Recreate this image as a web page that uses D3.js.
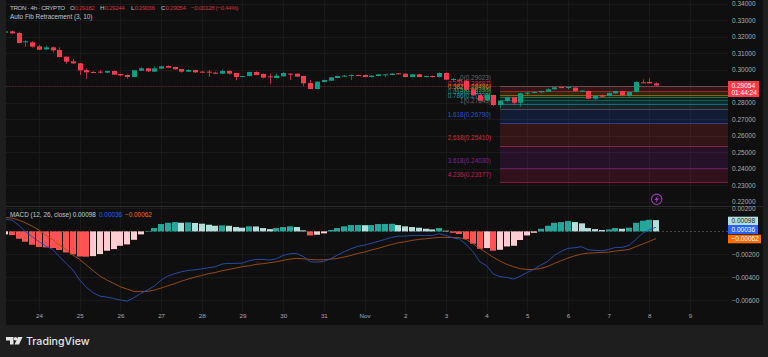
<!DOCTYPE html>
<html>
<head>
<meta charset="utf-8">
<script src="https://cdn.jsdelivr.net/npm/d3@7"></script>
<style>
  html, body { margin: 0; padding: 0; background: #1e1e1e; overflow: hidden; }
  text { font-family: "Liberation Sans", sans-serif; }
</style>
</head>
<body>
<div id="chart"></div>
<script>
// 4h candles, first bar is Oct 23 04:00
const opens = [.32256,.32337,.32236,.31691,.31671,.31428,.31246,.31368,.31206,.30802,.30519,.30398,.29994,.29873,.29893,.29832,.29933,.29752,.29691,.29570,.29954,.30095,.29893,.30075,.30236,.30176,.30055,.29893,.29994,.29893,.29893,.29832,.29772,.29933,.29812,.29570,.29630,.29873,.29752,.29610,.29509,.29610,.29772,.29772,.29630,.29206,.28842,.29267,.29348,.29509,.29590,.29671,.29691,.29691,.29570,.29630,.29691,.29691,.29792,.29772,.29570,.29731,.29590,.29630,.29570,.29812,.29428,.29408,.29348,.28822,.28459,.28136,.28479,.27873,.28115,.28338,.28014,.28560,.28600,.28641,.28681,.28822,.28964,.28903,.28923,.28701,.28721,.28257,.28459,.28418,.28580,.28721,.28439,.28661,.29247,.29267,.29182];
const highs = [.32357,.32378,.32317,.31812,.31731,.31509,.31469,.31408,.31368,.30802,.30681,.30418,.30095,.29933,.29994,.29954,.29954,.29772,.29711,.29994,.30176,.30115,.30216,.30256,.30277,.30196,.30055,.30055,.30014,.29933,.29994,.29893,.30034,.29974,.29812,.29630,.29893,.29913,.29792,.29792,.29792,.29873,.29812,.29792,.29650,.29388,.29307,.29408,.29570,.29650,.29691,.29731,.29711,.29711,.29691,.29752,.29752,.29812,.29812,.29792,.29752,.29772,.29650,.29650,.29853,.29853,.29509,.29469,.29408,.28883,.28539,.28580,.28499,.28176,.28378,.28358,.28620,.28661,.28681,.28742,.28883,.28964,.28984,.28984,.28944,.28782,.28742,.28439,.28499,.28620,.28742,.28742,.28681,.29287,.29428,.29489,.29244];
const lows = [.32236,.32176,.31610,.31408,.31347,.31206,.31206,.31044,.30762,.30378,.30358,.29691,.29449,.29812,.29792,.29812,.29691,.29610,.29469,.29550,.29933,.29873,.29873,.30055,.30095,.30014,.29832,.29873,.29812,.29832,.29590,.29772,.29752,.29711,.29368,.29550,.29610,.29671,.29489,.29125,.29489,.29590,.29388,.29570,.29024,.28822,.28822,.29247,.29327,.29489,.29570,.29388,.29630,.29550,.29529,.29610,.29570,.29671,.29731,.29550,.29550,.29550,.29550,.29550,.29550,.29388,.29287,.29307,.28782,.28418,.28115,.28115,.27812,.27671,.28035,.27873,.27772,.28479,.28580,.28580,.28661,.28802,.28883,.28822,.28681,.28661,.28237,.28196,.28338,.28398,.28560,.28398,.28378,.28641,.29206,.29166,.29036];
const closes = [.32337,.32216,.31630,.31731,.31408,.31226,.31368,.31186,.30782,.30499,.30398,.29974,.29853,.29832,.29853,.29933,.29711,.29671,.29570,.29974,.30095,.29913,.30095,.30216,.30135,.30034,.29893,.29994,.29853,.29853,.29873,.29792,.29933,.29772,.29570,.29630,.29873,.29691,.29529,.29570,.29650,.29812,.29731,.29590,.29186,.28842,.29287,.29388,.29550,.29630,.29650,.29691,.29650,.29570,.29650,.29731,.29731,.29772,.29752,.29570,.29731,.29570,.29630,.29570,.29812,.29408,.29449,.29348,.28802,.28459,.28136,.28499,.27873,.28136,.28338,.28014,.28580,.28620,.28661,.28721,.28822,.28944,.28923,.28964,.28721,.28742,.28257,.28418,.28378,.28600,.28721,.28479,.28661,.29267,.29226,.29186,.29054];

const macdLine = [.00104,.00099,.00055,-.00003,-.00046,-.0009,-.00128,-.00157,-.0022,-.00278,-.00336,-.00423,-.00487,-.00534,-.00563,-.00571,-.00583,-.00597,-.00606,-.00577,-.00539,-.0051,-.00476,-.00423,-.00389,-.00368,-.00351,-.00339,-.00334,-.00325,-.00316,-.00307,-.00284,-.00278,-.00278,-.00276,-.00255,-.00244,-.00244,-.00249,-.00238,-.00209,-.00194,-.00191,-.0022,-.00264,-.00267,-.00261,-.00238,-.00206,-.00177,-.00151,-.0013,-.00119,-.00104,-.00087,-.0007,-.00052,-.00041,-.00041,-.00035,-.00035,-.00035,-.00035,-.0002,-.00035,-.00055,-.00067,-.00113,-.00177,-.00264,-.00299,-.00371,-.00394,-.004,-.00415,-.00389,-.00357,-.00328,-.00293,-.00261,-.00209,-.00174,-.00148,-.00142,-.00133,-.0016,-.00165,-.00168,-.00157,-.00139,-.00139,-.00122,-.0007,-.00017,.00015,.00036];
const signalLine = [.00122,.00116,.00099,.00075,.00046,.00012,-.00032,-.0007,-.00119,-.00157,-.00206,-.00244,-.00293,-.00342,-.00389,-.00423,-.00452,-.00481,-.00502,-.00522,-.00522,-.00522,-.0051,-.00493,-.00473,-.00455,-.00432,-.00415,-.00397,-.00383,-.00368,-.00357,-.00342,-.00331,-.00319,-.00307,-.00299,-.00287,-.00281,-.00273,-.00264,-.00252,-.00241,-.00235,-.00238,-.00244,-.00247,-.00247,-.00241,-.00235,-.00223,-.00209,-.00191,-.0018,-.00162,-.00148,-.0013,-.00113,-.00099,-.0009,-.00078,-.0007,-.00064,-.00058,-.00052,-.00052,-.00052,-.00055,-.0007,-.00107,-.00148,-.00186,-.00226,-.00258,-.00287,-.00307,-.00325,-.00331,-.00331,-.00322,-.00305,-.00278,-.00255,-.00232,-.00212,-.00197,-.00189,-.00186,-.00183,-.0018,-.00171,-.00165,-.00157,-.00133,-.0011,-.00087,-.00062];
const histogram = [-.00026,-.00032,-.00064,-.0009,-.00116,-.00136,-.00139,-.00145,-.00162,-.00183,-.002,-.00218,-.0022,-.00215,-.00197,-.00168,-.00154,-.00125,-.00113,-.00073,-.00026,.00004,.00029,.00064,.00075,.00081,.00075,.00078,.00073,.00067,.00058,.00049,.00052,.00049,.00038,.00032,.00044,.00043,.00029,.0002,.00029,.00038,.00044,.00038,.00009,-.00035,-.00029,-.00017,.00012,.00029,.00044,.00055,.00056,.00054,.00055,.00064,.00065,.00066,.00055,.00044,.00038,.00032,.00023,.00017,.00029,.00006,-.00012,-.00023,-.00067,-.00107,-.00151,-.00145,-.00168,-.0016,-.00131,-.00125,-.00075,-.00035,-.00012,.00023,.00049,.00075,.00081,.0009,.00081,.0007,.00029,.0002,.00012,.00017,.00029,.00023,.00032,.00075,.00093,.00101,.00098];

const fibLevels = ["0","0.236","0.382","0.5","0.618","0.786","1","1.618","2.618","3.618","4.236"];
const fibPrices = [.29023,.28697,.28496,.28333,.2817,.27938,.27643,.2679,.2541,.2403,.23177];

const priceTicks = [.34,.33,.32,.31,.3,.29,.28,.27,.26,.25,.24,.23,.22];
const macdTicks = [.002,-.002,-.004,-.006];
const dayLabels = ["24","25","26","27","28","29","30","31","Nov","2","3","4","5","6","7","8","9"];
const firstBar = Date.UTC(2025, 9, 23, 4);
const firstDay = Date.UTC(2025, 9, 24);

// styles
const fibColors = ["#787b86","#f23645","#ff9800","#4caf50","#089981","#00bcd4","#787b86","#2962ff","#f23645","#9c27b0","#e91e63"];
const upColor = "#0a9d85", downColor = "#fb3a50";
const axisFont = 6.5, legendFont = 6.4, headerFont = 6.2;
const axisText = "#a9acb3";
const hour4 = 4 * 3600 * 1000, day = 24 * 3600 * 1000;

const width = 768, height = 357;
const plot = {left: 6, right: 728, edge: 763, bottom: 325, split: 207, paneEnd: 311};

const barTime = i => new Date(firstBar + i * hour4);
const dayTimes = dayLabels.map((d, i) => new Date(firstDay + i * day));

const x = d3.scaleUtc().domain([dayTimes[0], dayTimes[16]]).range([39, 690]);
const yPrice = d3.scaleLinear().domain([.22, .34]).range([201.9, 3.9]);
const yMacd = d3.scaleLinear().domain([-.006, .002]).range([300.4, 208.4]);

const svg = d3.select("#chart").append("svg")
    .attr("width", width)
    .attr("height", height)
    .style("display", "block");

svg.append("rect").attr("width", width).attr("height", height).attr("fill", "#1e1e1e");
svg.append("rect")
    .attr("x", plot.left).attr("y", 0)
    .attr("width", plot.edge - plot.left).attr("height", plot.bottom)
    .attr("fill", "#0f0f0f");

svg.append("clipPath").attr("id", "plotClip").append("rect")
    .attr("x", plot.left).attr("y", 0)
    .attr("width", plot.right - plot.left).attr("height", plot.bottom);

// grid
const grid = svg.append("g").attr("stroke", "#1a1a1a").attr("stroke-width", 1);
grid.selectAll(".v").data(dayTimes).enter().append("line")
    .attr("x1", d => Math.round(x(d)) + .5).attr("x2", d => Math.round(x(d)) + .5)
    .attr("y1", 0).attr("y2", plot.paneEnd);
grid.selectAll(".h").data(priceTicks).enter().append("line")
    .attr("x1", plot.left).attr("x2", plot.right)
    .attr("y1", d => Math.round(yPrice(d)) + .5).attr("y2", d => Math.round(yPrice(d)) + .5);
grid.selectAll(".m").data(macdTicks).enter().append("line")
    .attr("x1", plot.left).attr("x2", plot.right)
    .attr("y1", d => Math.round(yMacd(d)) + .5).attr("y2", d => Math.round(yMacd(d)) + .5);

// pane separator
svg.append("line")
    .attr("x1", plot.left).attr("x2", plot.edge)
    .attr("y1", plot.split - .5).attr("y2", plot.split - .5)
    .attr("stroke", "#2b2b2b");

// fib bands, lines and labels
const fibLeft = 500;
const fib = svg.append("g");
fib.selectAll("rect").data(fibPrices.slice(1)).enter().append("rect")
    .attr("x", fibLeft)
    .attr("y", (d, i) => yPrice(fibPrices[i]))
    .attr("width", plot.right - fibLeft)
    .attr("height", (d, i) => yPrice(d) - yPrice(fibPrices[i]))
    .attr("fill", (d, i) => fibColors[i + 1])
    .attr("opacity", .16);
fib.selectAll("line").data(fibPrices).enter().append("line")
    .attr("x1", fibLeft).attr("x2", plot.right)
    .attr("y1", d => Math.round(yPrice(d)) + .5).attr("y2", d => Math.round(yPrice(d)) + .5)
    .attr("stroke", (d, i) => fibColors[i])
    .attr("stroke-opacity", .5);
fib.selectAll("text").data(fibPrices).enter().append("text")
    .attr("x", 491)
    .attr("y", d => yPrice(d) - 8)
    .attr("dy", "0.35em")
    .attr("text-anchor", "end")
    .attr("font-size", legendFont)
    .attr("fill", (d, i) => fibColors[i])
    .attr("fill-opacity", .85)
    .text((d, i) => `${fibLevels[i]}(${d.toFixed(5)})`);

// last price line
svg.append("line")
    .attr("x1", plot.left).attr("x2", plot.right)
    .attr("y1", Math.round(yPrice(closes[96])) + .5).attr("y2", Math.round(yPrice(closes[96])) + .5)
    .attr("stroke", "#f23645").attr("stroke-opacity", .28)
    .attr("stroke-dasharray", "1.5 1.5");

// candles
const candles = svg.append("g").attr("clip-path", "url(#plotClip)");
const candleColor = i => closes[i] >= opens[i] ? upColor : downColor;
candles.selectAll(".wick").data(opens).enter().append("line")
    .attr("x1", (d, i) => Math.round(x(barTime(i))) + .5)
    .attr("x2", (d, i) => Math.round(x(barTime(i))) + .5)
    .attr("y1", (d, i) => yPrice(highs[i]))
    .attr("y2", (d, i) => yPrice(lows[i]))
    .attr("stroke", (d, i) => candleColor(i))
    .attr("stroke-opacity", .7);
candles.selectAll(".body").data(opens).enter().append("rect")
    .attr("x", (d, i) => Math.round(x(barTime(i))) - 2)
    .attr("y", (d, i) => yPrice(Math.max(d, closes[i])))
    .attr("width", 5)
    .attr("height", (d, i) => Math.max(1, Math.abs(yPrice(d) - yPrice(closes[i]))))
    .attr("fill", (d, i) => candleColor(i));

// macd pane
const pane = svg.append("g").attr("clip-path", "url(#plotClip)");
pane.append("line")
    .attr("x1", plot.left).attr("x2", plot.right)
    .attr("y1", Math.round(yMacd(0)) + .5).attr("y2", Math.round(yMacd(0)) + .5)
    .attr("stroke", "#444").attr("stroke-dasharray", "2 2");

const histColor = (d, i) => {
    const prev = i > 0 ? histogram[i - 1] : d;
    if (d >= 0) return d > prev ? "#26a69a" : "#b2dfdb";
    return d < prev ? "#ff5252" : "#ffcdd2";
};
pane.selectAll(".hist").data(histogram).enter().append("rect")
    .attr("x", (d, i) => Math.round(x(barTime(i))) - 3)
    .attr("y", d => Math.min(yMacd(d), yMacd(0)))
    .attr("width", 6)
    .attr("height", d => Math.abs(yMacd(d) - yMacd(0)))
    .attr("fill", histColor);

const lineGen = d3.line().x((d, i) => x(barTime(i))).y(d => yMacd(d));
pane.append("path").datum(signalLine)
    .attr("d", lineGen).attr("fill", "none")
    .attr("stroke", "#a8500f").attr("stroke-width", .9);
pane.append("path").datum(macdLine)
    .attr("d", lineGen).attr("fill", "none")
    .attr("stroke", "#2a50b8").attr("stroke-width", .9);

// axes
function styleAxis(g, size) {
    g.select(".domain").remove();
    g.selectAll(".tick line").remove();
    g.selectAll(".tick text").attr("fill", axisText).attr("font-size", size);
}
svg.append("g")
    .attr("transform", `translate(${plot.right},0)`)
    .call(d3.axisRight(yPrice).tickValues(priceTicks).tickFormat(d3.format(".5f")).tickSize(0).tickPadding(4))
    .call(styleAxis, axisFont);
svg.append("g")
    .attr("transform", `translate(${plot.right},0)`)
    .call(d3.axisRight(yMacd).tickValues(macdTicks).tickFormat(d3.format(".5f")).tickSize(0).tickPadding(4))
    .call(styleAxis, axisFont);
svg.append("g")
    .attr("transform", `translate(0,${plot.bottom - 11})`)
    .call(d3.axisBottom(x).tickValues(dayTimes).tickFormat((d, i) => dayLabels[i]).tickSize(0).tickPadding(0))
    .call(styleAxis, 6.2);

// axis value boxes
const fmt = d3.format(".5f");
function valueBox(value, top, h, w, fill, color) {
    svg.append("rect").attr("x", plot.right).attr("y", top).attr("width", w).attr("height", h).attr("fill", fill);
    svg.append("text").attr("x", plot.right + 3.5).attr("y", top + h / 2).attr("dy", "0.35em")
        .attr("font-size", axisFont).attr("fill", color).text(value);
}
svg.append("rect").attr("x", plot.right).attr("y", 81).attr("width", 31).attr("height", 16).attr("fill", "#fb3a50");
svg.append("text").attr("x", plot.right + 3.5).attr("y", 85.5).attr("dy", "0.35em")
    .attr("font-size", axisFont).attr("fill", "#fff").text(fmt(closes[96]));
svg.append("text").attr("x", plot.right + 3.5).attr("y", 92.5).attr("dy", "0.35em")
    .attr("font-size", axisFont).attr("fill", "#fff").text("01:44:24");
valueBox(fmt(histogram[96]), 216.7, 8.3, 30, "#b2dfdb", "#222");
valueBox(fmt(macdLine[96]), 225, 9, 30, "#2962ff", "#fff");
valueBox(fmt(signalLine[96]), 234.7, 8.6, 33, "#ff6d00", "#fff");

// legends
function legend(parts, y, size, tight) {
    parts.forEach(p => {
        svg.append("text").attr("x", p[0]).attr("y", y).attr("dy", "0.35em")
            .attr("font-size", size).attr("letter-spacing", tight || 0).attr("fill", p[2]).text(p[1]);
    });
}
const legendText = "#c3c6ce", red = "#d83040";
legend([
    [10, "TRON · 4h · CRYPTO", legendText],
    [70, "O", legendText], [74.5, fmt(opens[96]), red],
    [100, "H", legendText], [104.5, fmt(highs[96]), red],
    [131, "L", legendText], [134.6, fmt(lows[96]), red],
    [161, "C", legendText], [165.6, fmt(closes[96]), red],
    [191, `${fmt(closes[96] - opens[96])} (${d3.format(".2f")((closes[96] - opens[96]) / opens[96] * 100)}%)`, red]
], 7.5, headerFont, -.35);
legend([[10, "Auto Fib Retracement (3, 10)", legendText]], 17, legendFont);
legend([
    [10, "MACD (12, 26, close)", legendText],
    [72.7, fmt(histogram[96]), "#b2dfdb"],
    [99, fmt(macdLine[96]), "#2962ff"],
    [125, fmt(signalLine[96]), "#ff6d00"]
], 215, legendFont);

// lightning marker
const marker = svg.append("g").attr("transform", "translate(656.7,199.3)");
marker.append("circle").attr("r", 5.2).attr("fill", "#0f0f0f").attr("stroke", "#9c3fb5").attr("stroke-width", 1.1);
marker.append("path").attr("d", "M1.2,-3.6 L-2.4,0.7 L-0.3,0.7 L-1.2,3.6 L2.4,-0.7 L0.3,-0.7 Z").attr("fill", "#9c3fb5");

// logo
const logo = svg.append("g").attr("fill", "#e4e4e4");
logo.append("path").attr("d", "M6,337 H13.5 V344.5 H10 V340.5 H6 Z");
logo.append("circle").attr("cx", 15.6).attr("cy", 338.8).attr("r", 1.8);
logo.append("path").attr("d", "M18,337 H22.5 L19,344.5 H14.5 Z");
svg.append("text")
    .attr("x", 26).attr("y", 341).attr("dy", "0.36em")
    .attr("fill", "#e4e4e4")
    .style("font-family", "Inter, sans-serif")
    .attr("font-size", 10.6).attr("font-weight", 500)
    .text("TradingView");
</script>
</body>
</html>
